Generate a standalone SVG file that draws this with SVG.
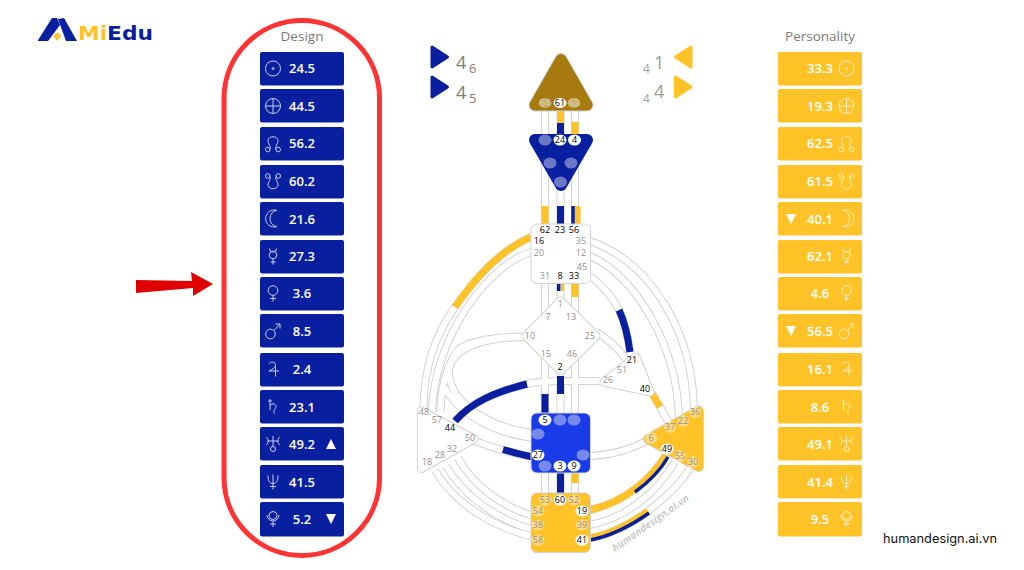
<svg xmlns="http://www.w3.org/2000/svg" width="1024" height="570" viewBox="0 0 1024 570">
<style>
text{font-family:"Open Sans","Noto Sans",sans-serif}
.ttl{font-size:13.500px;fill:#7b7b7b;text-anchor:middle}
.val{font-size:13px;font-weight:600;fill:#fff;text-anchor:middle}
.d rect{fill:#081FA0}
.p rect{fill:#FFC328}
.gd{fill:none;stroke:#c9cfec;stroke-width:1}
.gp{fill:none;stroke:#fff1c4;stroke-width:1}
.gd .f,.gp .f{fill:#fff;stroke:none}
.ce{fill:none;stroke:#d2d2d2;stroke-width:8}
.ci{fill:none;stroke:#fff;stroke-width:6}
.y{fill:none;stroke:#FFC328;stroke-width:7}
.b{fill:none;stroke:#081FA0;stroke-width:7}
.g{font-size:9px;text-anchor:middle;fill:#8f8f8f}
.a{fill:#000}
.dim{fill:#fff;opacity:.4}
.on{fill:#fff}
.t{stroke-linejoin:round}
</style>
<defs>
<g id="sun"><circle r="7.500"/><circle class="f" r="1"/></g>
<g id="earth"><circle r="7.500"/><path d="M-7.500 0H7.500M0-7.500V7.500"/></g>
<g id="nn"><path d="M-3.500 6C-1 4-5.500-.5-5-3-4.500-8 4.500-8 5-3 5.500-.5 1 4 3.500 6"/><circle cx="-5.200" cy="6" r="2.300"/><circle cx="5.200" cy="6" r="2.300"/></g>
<g id="sn"><path d="M-3.500-5C-1-3-5.500 1-5 3.500-4.500 8.500 4.500 8.500 5 3.500 5.500 1 1-3 3.500-5"/><circle cx="-5.200" cy="-5.500" r="2.300"/><circle cx="5.200" cy="-5.500" r="2.300"/></g>
<path id="moon" d="M4-8A8.500 8.500 0 1 0 4 8 7 8 0 0 1 4-8Z"/>
<g id="merc"><circle cy="-1.500" r="3.800"/><path d="M-3.500-8A3.500 3.500 0 0 0 3.500-8M0 2.300V8M-2.500 5.500H2.500"/></g>
<g id="venus"><circle cy="-3" r="4.800"/><path d="M0 1.800V8M-3 5H3"/></g>
<g id="mars"><circle cx="-2.500" cy="3" r="4.800"/><path d="M1-.5L7-7M2.500-7H7V-2.500"/></g>
<path id="jup" d="M-4-5.500C-3-8.500 3-8 2.500-4 2-1.500-1 0-4 1.500H6M2.500-3V7"/>
<path id="sat" d="M-3-8V3M-5-6H-1M-3-1.500C-.5-4.500 3-3 3-.5 3 2-.5 3 1.500 6.500"/>
<g id="ura"><path d="M-7-7C-4-5-4-1-7 1M7-7C4-5 4-1 7 1M-5.500-3H5.500M0-8V2"/><circle cy="5" r="2.500"/></g>
<path id="nep" d="M-5-6C-5 0-3 2 0 2S5 0 5-6M0-7V8M-3 5H3"/>
<g id="plu"><circle cy="-3.500" r="4"/><path d="M-6-4A6 6 0 0 0 6-4M0 2.200V8M-3 5H3"/></g>
</defs>

<g id="logo">
<path fill="#081FA0" d="M37.500 41L52 18H57L60 25L48 41ZM58 19L64 18L77 41H66Z"/>
<path fill="#FFC328" d="M53 36L56 33H59L61 36L57 41Z"/>
<text x="78" y="40" font-size="20" font-weight="700" textLength="75" lengthAdjust="spacingAndGlyphs" style="font-family:'DejaVu Sans',sans-serif"><tspan fill="#FFC328">Mi</tspan><tspan fill="#081FA0">Edu</tspan></text>
</g>

<path id="red-arrow" fill="#E00000" d="M136 280L192 281L191 272L213 284L193 296L193 288L136 293Z"/>
<rect id="red-outline" x="224" y="20.500" width="155.500" height="535" rx="77.700" fill="none" stroke="#FF3333" stroke-width="5"/>

<g id="design-panel">
<text class="ttl" x="302" y="41">Design</text>
<g class="d">
<rect x="260" y="52" width="84" height="33.500" rx="2"/><rect x="260" y="89" width="84" height="33.500" rx="2"/><rect x="260" y="127" width="84" height="33.500" rx="2"/><rect x="260" y="165" width="84" height="33.500" rx="2"/><rect x="260" y="202" width="84" height="33.500" rx="2"/><rect x="260" y="240" width="84" height="33.500" rx="2"/><rect x="260" y="277" width="84" height="33.500" rx="2"/><rect x="260" y="314" width="84" height="33.500" rx="2"/><rect x="260" y="353" width="84" height="33.500" rx="2"/><rect x="260" y="390" width="84" height="33.500" rx="2"/><rect x="260" y="427" width="84" height="33.500" rx="2"/><rect x="260" y="465" width="84" height="33.500" rx="2"/><rect x="260" y="502" width="84" height="34.500" rx="2"/>
</g>
<g class="gd">
<use href="#sun" x="273" y="68.500"/><use href="#earth" x="273" y="106"/><use href="#nn" x="273" y="143.500"/><use href="#sn" x="273" y="181.500"/><use href="#moon" x="273" y="218.500"/><use href="#merc" x="273" y="256.500"/><use href="#venus" x="273" y="293.500"/><use href="#mars" x="273" y="331"/><use href="#jup" x="273" y="369.500"/><use href="#sat" x="273" y="407"/><use href="#ura" x="273" y="444"/><use href="#nep" x="273" y="481.500"/><use href="#plu" x="273" y="519"/>
</g>
<text class="val" x="302" y="73">24.5</text><text class="val" x="302" y="111">44.5</text><text class="val" x="302" y="148">56.2</text><text class="val" x="302" y="186">60.2</text><text class="val" x="302" y="224">21.6</text><text class="val" x="302" y="261">27.3</text><text class="val" x="302" y="298">3.6</text><text class="val" x="302" y="336">8.5</text><text class="val" x="302" y="374">2.4</text><text class="val" x="302" y="412">23.1</text><text class="val" x="302" y="449">49.2</text><text class="val" x="302" y="487">41.5</text><text class="val" x="302" y="524">5.2</text>
<path fill="#fff" d="M326 449L331 439L336 449ZM326 514H336L331 524Z"/>
</g>

<g id="personality-panel">
<text class="ttl" x="820" y="41">Personality</text>
<g class="p">
<rect x="778" y="52" width="84" height="33.500" rx="2"/><rect x="778" y="89" width="84" height="33.500" rx="2"/><rect x="778" y="127" width="84" height="33.500" rx="2"/><rect x="778" y="165" width="84" height="33.500" rx="2"/><rect x="778" y="202" width="84" height="33.500" rx="2"/><rect x="778" y="240" width="84" height="33.500" rx="2"/><rect x="778" y="277" width="84" height="33.500" rx="2"/><rect x="778" y="314" width="84" height="33.500" rx="2"/><rect x="778" y="353" width="84" height="33.500" rx="2"/><rect x="778" y="390" width="84" height="33.500" rx="2"/><rect x="778" y="427" width="84" height="33.500" rx="2"/><rect x="778" y="465" width="84" height="33.500" rx="2"/><rect x="778" y="502" width="84" height="34.500" rx="2"/>
</g>
<g class="gp">
<use href="#sun" x="846.500" y="68.500"/><use href="#earth" x="846.500" y="106"/><use href="#nn" x="846.500" y="143.500"/><use href="#sn" x="846.500" y="181.500"/><use href="#moon" transform="translate(846.500 218.500) scale(-1 1)"/><use href="#merc" x="846.500" y="256.500"/><use href="#venus" x="846.500" y="293.500"/><use href="#mars" x="846.500" y="331"/><use href="#jup" x="846.500" y="369.500"/><use href="#sat" x="846.500" y="407"/><use href="#ura" x="846.500" y="444"/><use href="#nep" x="846.500" y="481.500"/><use href="#plu" x="846.500" y="519"/>
</g>
<text class="val" x="820" y="73">33.3</text><text class="val" x="820" y="111">19.3</text><text class="val" x="820" y="148">62.5</text><text class="val" x="820" y="186">61.5</text><text class="val" x="820" y="224">40.1</text><text class="val" x="820" y="261">62.1</text><text class="val" x="820" y="298">4.6</text><text class="val" x="820" y="336">56.5</text><text class="val" x="820" y="374">16.1</text><text class="val" x="820" y="412">8.6</text><text class="val" x="820" y="449">49.1</text><text class="val" x="820" y="487">41.4</text><text class="val" x="820" y="524">9.5</text>
<path fill="#fff" d="M786 214H796L791 224ZM786 326H796L791 336Z"/>
</g>

<g id="arrows-top">
<g fill="#081FA0" stroke="#081FA0" stroke-width="3" stroke-linejoin="round"><path d="M432 47L447.500 57L432 67Z"/><path d="M432 77L447.500 87L432 97Z"/></g>
<g fill="#FFC328" stroke="#FFC328" stroke-width="3" stroke-linejoin="round"><path d="M691 47L675.500 57L691 67Z"/><path d="M675.500 77L691 87L675.500 97Z"/></g>
<g fill="#7b7b7b" font-size="18"><text x="456" y="69">4</text><text x="456" y="99">4</text></g>
<g fill="#8a7a70" font-size="13"><text x="469" y="73">6</text><text x="469" y="103">5</text></g>
<g fill="#9a9a9a" font-size="18"><text x="654" y="69">1</text><text x="654" y="98">4</text></g>
<g fill="#a89c90" font-size="12"><text x="643" y="73">4</text><text x="643" y="103">4</text></g>
</g>

<g id="connectors">
<g class="ce">
<path d="M545 100V552M560.500 100V552M575 100V552"/>
<path d="M531 237C500 250 475 278 455 307C435 335 424 370 423.500 408"/>
<path d="M531 252C490 264 434 335 432 412"/>
<path d="M525 337C495 336 470 341 459 349C448 362 441 385 440.500 412"/>
<path d="M525 337C480 337 449 350 449 372C449 402 490 428 533 433"/>
<path d="M445 388C460 415 495 433 533 438"/>
<path d="M600 381H565C545 381 535 382 527 384C495 392 472 402 455 421"/>
<path d="M475 441C490 447 510 453 533 457"/>
<path d="M534 537C495 528 455 505 435 470"/>
<path d="M534 530C498 520 465 498 446 466"/>
<path d="M534 516C505 508 475 488 458 458"/>
<path d="M590 241C650 262 692 330 694 408"/>
<path d="M590 256C635 275 677 345 679 418"/>
<path d="M588 275C603 285 613 298 619 310C625 323 628 337 630 352"/>
<path d="M596 332C610 340 620 350 628 362"/>
<path d="M652 393L672 428"/>
<path d="M590 456C612 455 632 449 648 440"/>
<path d="M590 525C625 518 655 495 675 462"/>
<path d="M590 538C612 534 632 523 648 511C665 498 680 485 690 468"/>
<path d="M590 510C607 506 622 499 635 489C648 479 658 468 666 455"/>
</g>
<g class="ci">
<path d="M545 100V552M560.500 100V552M575 100V552"/>
<path d="M531 237C500 250 475 278 455 307C435 335 424 370 423.500 408"/>
<path d="M531 252C490 264 434 335 432 412"/>
<path d="M525 337C495 336 470 341 459 349C448 362 441 385 440.500 412"/>
<path d="M525 337C480 337 449 350 449 372C449 402 490 428 533 433"/>
<path d="M445 388C460 415 495 433 533 438"/>
<path d="M600 381H565C545 381 535 382 527 384C495 392 472 402 455 421"/>
<path d="M475 441C490 447 510 453 533 457"/>
<path d="M534 537C495 528 455 505 435 470"/>
<path d="M534 530C498 520 465 498 446 466"/>
<path d="M534 516C505 508 475 488 458 458"/>
<path d="M590 241C650 262 692 330 694 408"/>
<path d="M590 256C635 275 677 345 679 418"/>
<path d="M588 275C603 285 613 298 619 310C625 323 628 337 630 352"/>
<path d="M596 332C610 340 620 350 628 362"/>
<path d="M652 393L672 428"/>
<path d="M590 456C612 455 632 449 648 440"/>
<path d="M590 525C625 518 655 495 675 462"/>
<path d="M590 538C612 534 632 523 648 511C665 498 680 485 690 468"/>
<path d="M590 510C607 506 622 499 635 489C648 479 658 468 666 455"/>
</g>
<g class="y">
<path d="M560.500 111V123M575 122V134M545 206V224M577 206V224M575 283V297M575 473V483"/>
<path d="M531 237C500 250 475 278 455 307"/>
<path d="M652 394L660 407"/>
<path d="M590 510C607 506 622 499 635 489C648 479 658 468 666 455"/>
<path d="M590 538C612 534 632 523 648 511"/>
<path style="stroke-width:3.500" d="M562.500 283V291"/>
</g>
<g class="b">
<path d="M560.500 123V134M560.500 206V224M560.500 376V394M545 394V413M560.500 473V493"/>
<path style="stroke-width:3.500" d="M573 206V224M558.700 283V291"/>
<path d="M527 384C495 392 472 402 455 421"/>
<path d="M503 449.500C512 452 522 455 533 457"/>
<path d="M619 310C625 323 628 337 630 352"/>
<path style="stroke-width:3.500" d="M635 492C649 482 660 471 668 457"/>
<path style="stroke-width:3.500" d="M590 540C612 536 632 525 649 513"/>
</g>
</g>

<g id="head"><path class="t" d="M561 59.500L535 105H587Z" fill="#d2d2d2" stroke="#d2d2d2" stroke-width="13"/><path class="t" d="M561 59.500L535 105H587Z" fill="#A67A0E" stroke="#A67A0E" stroke-width="11"/>
<ellipse class="dim" cx="545" cy="103" rx="6.500" ry="5"/><ellipse class="on" cx="560" cy="103" rx="6.500" ry="5"/><ellipse class="dim" cx="574" cy="103" rx="6.500" ry="5"/>
<text class="g" x="545" y="106" style="fill:#d9cfae">64</text><text class="g" x="560" y="106" style="fill:#000">61</text><text class="g" x="574" y="106" style="fill:#d9cfae">63</text></g>

<g id="ajna"><path class="t" d="M535 140H587L561 185Z" fill="#081FA0" stroke="#081FA0" stroke-width="12"/>
<ellipse class="dim" cx="545" cy="140" rx="6.500" ry="5.500"/><ellipse class="on" cx="560" cy="140" rx="6.500" ry="5.500"/><ellipse class="on" cx="574.500" cy="140" rx="6.500" ry="5.500"/><ellipse class="dim" cx="550" cy="163" rx="6.500" ry="5.500"/><ellipse class="dim" cx="571" cy="163" rx="6.500" ry="5.500"/><ellipse class="dim" cx="560.500" cy="182" rx="6.500" ry="5.500"/>
<text class="g" x="545" y="143" style="fill:#6f78c4">47</text><text class="g" x="560" y="143" style="fill:#000">24</text><text class="g" x="574.500" y="143" style="fill:#000">4</text><text class="g" x="550" y="166" style="fill:#6f78c4">17</text><text class="g" x="571" y="166" style="fill:#6f78c4">11</text><text class="g" x="560.500" y="185" style="fill:#6f78c4">43</text></g>

<g id="throat"><rect x="531" y="224" width="59.500" height="59.500" rx="6" fill="#fff" stroke="#d2d2d2"/>
<text class="g a" x="545" y="233">62</text><text class="g a" x="560" y="233">23</text><text class="g a" x="574" y="233">56</text><text class="g a" x="539" y="244">16</text><text class="g" x="581" y="244">35</text><text class="g" x="539" y="256">20</text><text class="g" x="581" y="256">12</text><text class="g" x="582" y="270">45</text><text class="g" x="545" y="279">31</text><text class="g a" x="560" y="279">8</text><text class="g a" x="574" y="279">33</text></g>

<g id="g-center"><path class="t" d="M560.500 301L596 336L560.500 371L526 336Z" fill="#d2d2d2" stroke="#d2d2d2" stroke-width="9"/><path class="t" d="M560.500 301L596 336L560.500 371L526 336Z" fill="#fff" stroke="#fff" stroke-width="7"/>
<text class="g" x="560" y="307">1</text><text class="g" x="548" y="320">7</text><text class="g" x="571" y="320">13</text><text class="g" x="530" y="339">10</text><text class="g" x="590" y="339">25</text><text class="g" x="546" y="357">15</text><text class="g" x="572" y="357">46</text><text class="g a" x="560" y="370">2</text></g>

<g id="heart"><path class="t" d="M604 382L636 357L650 392Z" fill="#d2d2d2" stroke="#d2d2d2" stroke-width="9"/><path class="t" d="M604 382L636 357L650 392Z" fill="#fff" stroke="#fff" stroke-width="7"/>
<text class="g a" x="632" y="363">21</text><text class="g" x="622" y="373">51</text><text class="g" x="608" y="383">26</text><text class="g a" x="645" y="392">40</text></g>

<g id="spleen"><path class="t" d="M421.500 411L421.500 468.500L474 439Z" fill="#d2d2d2" stroke="#d2d2d2" stroke-width="9"/><path class="t" d="M421.500 411L421.500 468.500L474 439Z" fill="#fff" stroke="#fff" stroke-width="7"/>
<text class="g" x="424" y="415">48</text><text class="g" x="437" y="423">57</text><text class="g a" x="450" y="431">44</text><text class="g" x="470" y="441">50</text><text class="g" x="452" y="452">32</text><text class="g" x="440" y="458">28</text><text class="g" x="427" y="465">18</text></g>

<g id="sacral"><rect x="531" y="413" width="59.500" height="60" rx="6" fill="#1A3BE8" stroke="#d2d2d2"/>
<ellipse class="on" cx="545" cy="420" rx="6.500" ry="5.500"/><ellipse class="dim" cx="560" cy="420" rx="6.500" ry="5.500"/><ellipse class="dim" cx="574" cy="420" rx="6.500" ry="5.500"/><ellipse class="dim" cx="538" cy="434" rx="6.500" ry="5.500"/><ellipse class="on" cx="538" cy="455" rx="6.500" ry="5.500"/><ellipse class="dim" cx="583" cy="455" rx="6.500" ry="5.500"/><ellipse class="dim" cx="545" cy="466" rx="6.500" ry="5.500"/><ellipse class="on" cx="560" cy="466" rx="6.500" ry="5.500"/><ellipse class="on" cx="574" cy="466" rx="6.500" ry="5.500"/>
<text class="g" x="545" y="423" style="fill:#000">5</text><text class="g" x="560" y="423" style="fill:#7a8ae0">14</text><text class="g" x="574" y="423" style="fill:#7a8ae0">29</text><text class="g" x="538" y="437" style="fill:#7a8ae0">34</text><text class="g" x="538" y="458" style="fill:#000">27</text><text class="g" x="583" y="458" style="fill:#7a8ae0">59</text><text class="g" x="545" y="469" style="fill:#7a8ae0">42</text><text class="g" x="560" y="469" style="fill:#000">3</text><text class="g" x="574" y="469" style="fill:#000">9</text></g>

<g id="solar-plexus"><path class="t" d="M698.500 411L698.500 466.500L648.500 439Z" fill="#d2d2d2" stroke="#d2d2d2" stroke-width="11"/><path class="t" d="M698.500 411L698.500 466.500L648.500 439Z" fill="#FFC328" stroke="#FFC328" stroke-width="9"/>
<circle class="dim" cx="695" cy="412" r="6"/><circle class="dim" cx="683" cy="421" r="6"/><circle class="dim" cx="670" cy="427" r="6"/><circle class="dim" cx="651" cy="438" r="6"/><ellipse class="on" cx="667" cy="449" rx="6.500" ry="5.500"/><circle class="dim" cx="680" cy="456" r="6"/><circle class="dim" cx="693" cy="462" r="6"/>
<text class="g" x="695" y="415">36</text><text class="g" x="683" y="424">22</text><text class="g" x="670" y="430">37</text><text class="g" x="651" y="441">6</text><text class="g a" x="667" y="452">49</text><text class="g" x="680" y="459">55</text><text class="g" x="693" y="465">30</text></g>

<g id="root"><rect x="531" y="493" width="59.500" height="59.500" rx="6" fill="#FFC328" stroke="#d2d2d2"/>
<ellipse class="dim" cx="545" cy="500" rx="6.500" ry="5.500"/><ellipse class="on" cx="560" cy="500" rx="6.500" ry="5.500"/><ellipse class="dim" cx="574" cy="500" rx="6.500" ry="5.500"/><ellipse class="dim" cx="538" cy="511" rx="6.500" ry="5.500"/><ellipse class="on" cx="582" cy="511" rx="6.500" ry="5.500"/><ellipse class="dim" cx="538" cy="525" rx="6.500" ry="5.500"/><ellipse class="dim" cx="582" cy="525" rx="6.500" ry="5.500"/><ellipse class="dim" cx="538" cy="540" rx="6.500" ry="5.500"/><ellipse class="on" cx="582" cy="540" rx="6.500" ry="5.500"/>
<text class="g" x="545" y="503">53</text><text class="g a" x="560" y="503">60</text><text class="g" x="574" y="503">52</text><text class="g" x="538" y="514">54</text><text class="g a" x="582" y="514">19</text><text class="g" x="538" y="528">38</text><text class="g" x="582" y="528">39</text><text class="g" x="538" y="543">58</text><text class="g a" x="582" y="543">41</text></g>

<text id="watermark" transform="translate(615 552) rotate(-35)" font-size="10" font-weight="700" font-style="italic" fill="#cacaca" letter-spacing=".1">humandesign.ai.vn</text>
<text id="site" x="883" y="543" font-size="12.800" fill="#111" style="font-family:Inter,sans-serif">humandesign.ai.vn</text>
</svg>
